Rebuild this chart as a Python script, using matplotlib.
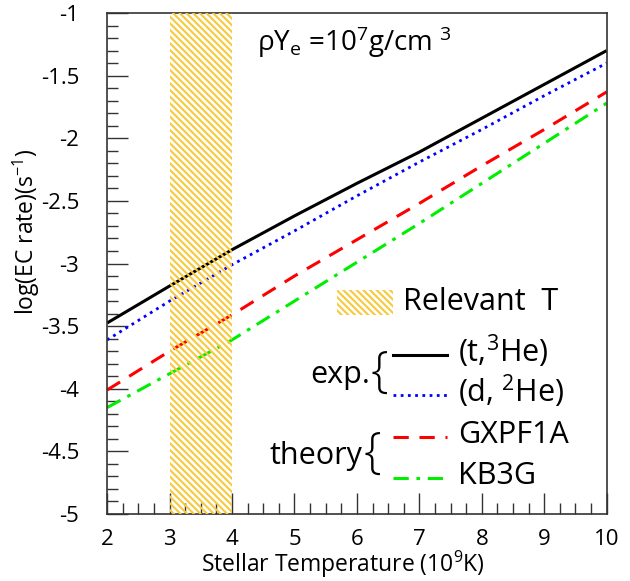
import matplotlib
matplotlib.use("Agg")
import matplotlib.pyplot as plt
from matplotlib.patches import Rectangle
from matplotlib.ticker import MultipleLocator

plt.rcParams['font.family'] = ['Open Sans', 'DejaVu Sans']
plt.rcParams['mathtext.fontset'] = 'custom'
plt.rcParams['mathtext.rm'] = 'Open Sans'
plt.rcParams['mathtext.it'] = 'Open Sans'
plt.rcParams['hatch.linewidth'] = 1.5

temperature = [2, 3, 4, 5, 6, 7, 8, 9, 10]
t3he = [-3.475, -3.18, -2.89, -2.62, -2.36, -2.11, -1.84, -1.57, -1.30]
d2he = [-3.61, -3.30, -3.01, -2.74, -2.46, -2.19, -1.93, -1.66, -1.40]
gxpf1a = [-4.01, -3.70, -3.41, -3.10, -2.81, -2.52, -2.22, -1.93, -1.63]
kb3g = [-4.15, -3.88, -3.61, -3.30, -2.99, -2.68, -2.36, -2.04, -1.72]
relevant_T = [3, 4]

gold = '#F8C93A'
HATCH = '\\' * 5

fig = plt.figure(figsize=(6.3, 5.81), dpi=100)
ax = fig.add_axes([0.170, 0.1153, 0.793, 0.8623])

ax.plot(temperature, t3he, color='black', lw=2.2, solid_capstyle='butt')
ax.plot(temperature, d2he, color='#0000FF', lw=2.0, linestyle=(0, (1, 1.6)))
ax.plot(temperature, gxpf1a, color='#FF0000', lw=2.2, linestyle=(0, (5, 3.5)))
ax.plot(temperature, kb3g, color='#00EE00', lw=2.2, linestyle=(0, (5, 2.5, 1.2, 2.5)))

ax.add_patch(Rectangle((relevant_T[0], -5), relevant_T[1] - relevant_T[0], 4,
                       facecolor='none', edgecolor=gold, hatch=HATCH, lw=0, zorder=5))

ax.set_xlim(2, 10)
ax.set_ylim(-5, -1)
ax.xaxis.set_major_locator(MultipleLocator(1))
ax.xaxis.set_minor_locator(MultipleLocator(0.25))
ax.yaxis.set_major_locator(MultipleLocator(0.5))
ax.yaxis.set_minor_locator(MultipleLocator(0.1))
ax.set_yticks([-5, -4.5, -4, -3.5, -3, -2.5, -2, -1.5, -1])
ax.set_yticklabels(['-5', '-4.5', '-4', '-3.5', '-3', '-2.5', '-2', '-1.5', '-1'])
ax.tick_params(which='both', direction='in', top=False, right=False, labelsize=16, width=1.0, color='#333333')
ax.tick_params(which='major', length=15)
ax.tick_params(which='minor', length=8)
ax.tick_params(axis='x', which='major', pad=11)
ax.tick_params(axis='y', which='major', pad=20)
for s in ax.spines.values():
    s.set_linewidth(1.2)
    s.set_color('#333333')

fig.text(343 / 630, 1 - 564 / 581, 'Stellar Temperature (10$^{9}$K)', fontsize=16.5,
         ha='center', va='center')
fig.text(26 / 630, 1 - 232 / 581, 'log(EC rate)(s$^{-1}$)', fontsize=16.5,
         ha='center', va='center', rotation=90)

ax.text(4.4, -1.23, r'$\rho$Y$_{\rm e}$ =10$^{7}$g/cm $^{3}$', fontsize=20, va='center', ha='left')

# legend drawn by hand
ax.add_patch(Rectangle((5.68, -3.41), 0.90, 0.20, facecolor='none', edgecolor=gold,
                       hatch=HATCH, lw=0, zorder=5))
ax.text(6.74, -3.31, 'Relevant  T', fontsize=22, va='center', ha='left')

ax.plot([6.58, 7.44], [-3.73, -3.73], color='black', lw=2.2)
ax.text(7.62, -3.70, '(t,$^{3}$He)', fontsize=22, va='center', ha='left')
ax.plot([6.58, 7.44], [-4.05, -4.05], color='#0000FF', lw=2.0, linestyle=(0, (1, 1.6)))
ax.text(7.62, -4.02, '(d, $^{2}$He)', fontsize=22, va='center', ha='left')
ax.text(6.21, -3.89, 'exp.', fontsize=22, va='center', ha='right')
ax.text(6.36, -3.88, '{', fontsize=36, va='center', ha='center', fontweight='light')

ax.plot([6.58, 7.44], [-4.385, -4.385], color='#FF0000', lw=2.2, linestyle=(0, (5, 3.5)))
ax.text(7.62, -4.37, 'GXPF1A', fontsize=22, va='center', ha='left')
ax.plot([6.58, 7.44], [-4.71, -4.71], color='#00EE00', lw=2.2, linestyle=(0, (5, 2.5, 1.2, 2.5)))
ax.text(7.62, -4.70, 'KB3G', fontsize=22, va='center', ha='left')
ax.text(6.08, -4.54, 'theory', fontsize=22, va='center', ha='right')
ax.text(6.24, -4.53, '{', fontsize=36, va='center', ha='center', fontweight='light')

fig.savefig('out.png', dpi=100)
